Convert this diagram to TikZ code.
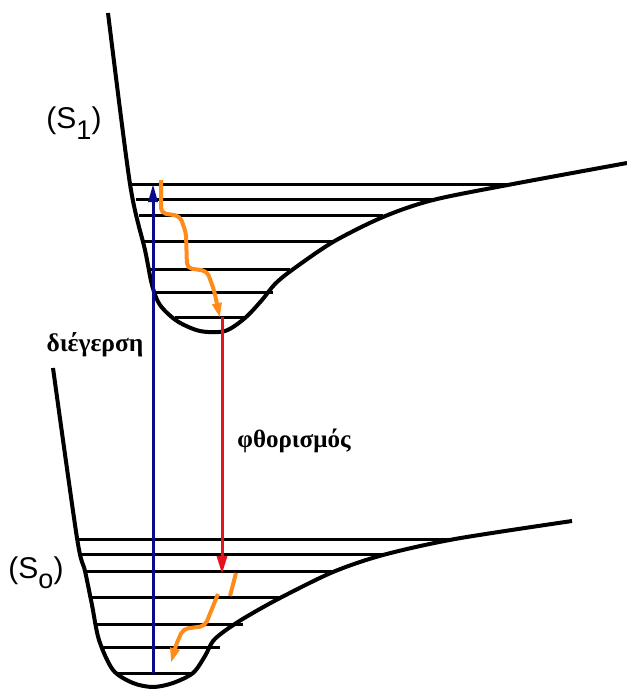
\documentclass[tikz,border=0pt]{standalone}
\usepackage{fontspec}
\setmainfont{Liberation Serif}
\newfontfamily\labelsans{Liberation Sans}
\usetikzlibrary{arrows.meta}
\definecolor{exblue}{RGB}{10,10,140}
\definecolor{flred}{RGB}{228,20,28}
\definecolor{relax}{RGB}{255,140,26}
\tikzset{
  curve/.style={line width=4pt, line join=round, black},
  level/.style={line width=3pt, black},
  excite/.style={line width=3pt, exblue, -{Triangle[length=18pt,width=9pt]}},
  emit/.style={line width=3pt, flred, -{Triangle[length=18pt,width=10pt]}},
  wig/.style={line width=4pt, relax, rounded corners=5pt, -{Triangle[length=15pt,width=9pt]}},
  statelbl/.style={font=\labelsans\fontsize{30}{32}\selectfont, inner sep=0pt},
  proclbl/.style={font=\bfseries\fontsize{24}{26}\selectfont, inner sep=0pt}
}
\begin{document}
\begin{tikzpicture}[x=1pt,y=-1pt]
\useasboundingbox (0,0) rectangle (627,689);
% S1 potential
\draw[curve] plot[smooth, tension=0.5] coordinates {(108,13) (130,184) (145,250) (152,285) (160,305) (177,321) (200,331) (225,331) (245,318) (262,300) (275,284) (292,270) (333,242) (383,217) (433,200) (513,184) (627,163)};
% S1 levels
\foreach \y/\xl/\xr in {184/130/513, 199/136/433, 215/139/383, 241/144/333, 269/150/290, 292/155/273, 317/175/245}
  \draw[level] (\xl,\y) -- (\xr,\y);
% S0 potential
\draw[curve] plot[smooth, tension=0.5] coordinates {(53,368) (77,538) (85,571) (92,605) (99,640) (113,670) (133,683) (153,687) (173,683) (193,673) (205,656) (213,641) (226,630) (246,617) (280,598) (333,572) (383,555) (455,539) (572,521)};
% S0 levels
\foreach \y/\xl/\xr in {539/77/455, 554/81/383, 571/85/333, 597/90/280, 624/96/243, 647/101/220, 673/118/193}
  \draw[level] (\xl,\y) -- (\xr,\y);
% coordinates for transitions
\coordinate (exlow) at (153,673);
\coordinate (exhigh) at (153,184);
\coordinate (flhigh) at (222,317);
\coordinate (fllow) at (222,574);
% excitation
\draw[excite] (exlow) -- (exhigh);
% fluorescence
\draw[emit] (flhigh) -- (fllow);
% vibrational relaxation S1
\coordinate (r1s) at (161,180);
\coordinate (r1e) at (220,318);
\draw[wig] (r1s) -- (161,213) -- (180,216) -- (186,233) -- (187,268) -- (207,271) -- (214,290) -- (r1e);
% vibrational relaxation S0
\coordinate (r0s) at (236,573);
\coordinate (r0e) at (171,663);
\draw[line width=4pt, relax] (r0s) -- (230,596);
\draw[wig] (218,594) -- (205,626) -- (183,629) -- (176,645) -- (r0e);
% labels
\node[statelbl] (s1) at (74,123) {(S\raisebox{-0.65ex}{\fontsize{27}{28}\selectfont 1})};
\node[statelbl] (s0) at (36,573) {(S\raisebox{-0.65ex}{\fontsize{27}{28}\selectfont o})};
\node[proclbl, font=\bfseries\fontsize{25.5}{27}\selectfont] (exc) at (95,345) {διέγερση};
\node[proclbl, font=\bfseries\fontsize{25}{27}\selectfont] (flu) at (294,441) {φθορισμός};
\end{tikzpicture}
\end{document}
